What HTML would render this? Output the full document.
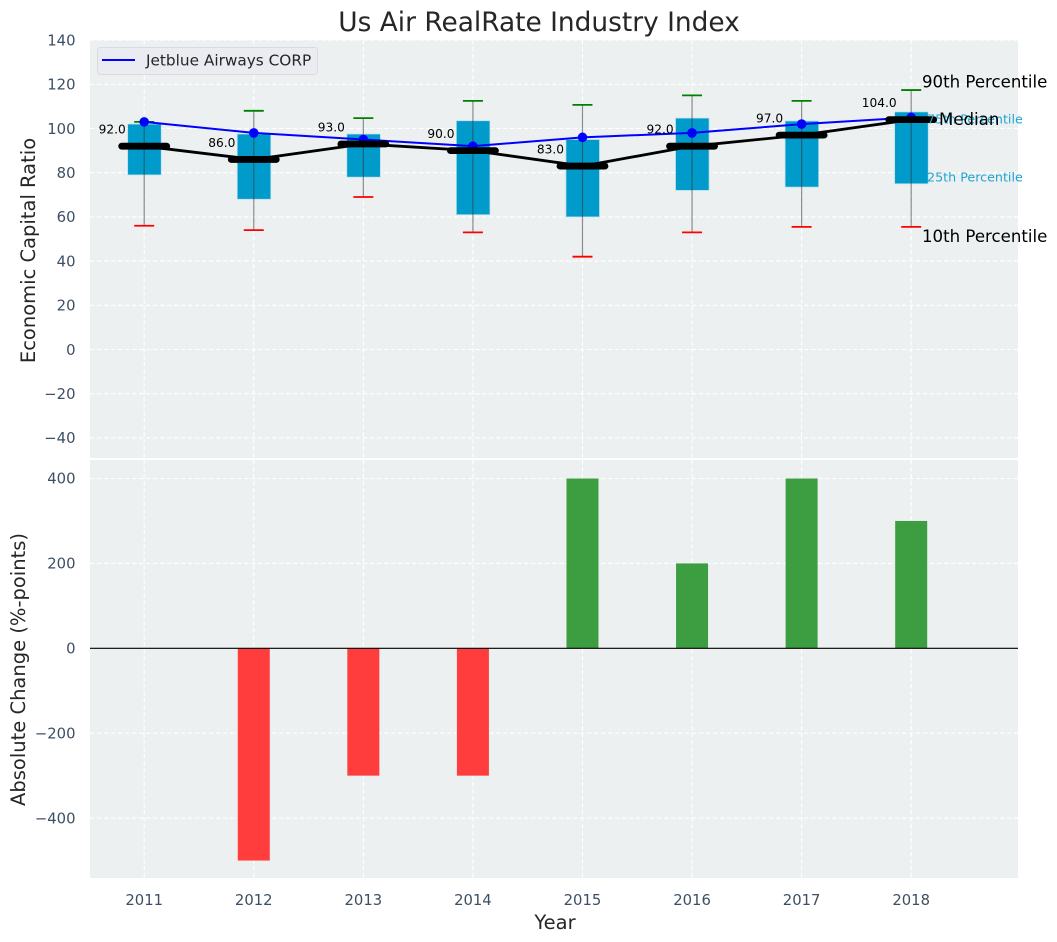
<!DOCTYPE html>
<html lang="en">
<head>
<meta charset="utf-8">
<title>Us Air RealRate Industry Index</title>
<style>
html,body{margin:0;padding:0;background:#fff;width:1057px;height:942px;overflow:hidden}
svg{display:block;font-family:"DejaVu Sans","Liberation Sans",sans-serif}
.tick{font-size:14.8px;fill:#3d4f63}
.axis-title{font-size:19.5px;fill:#262626}
</style>
</head>
<body>
<svg id="chart" xmlns="http://www.w3.org/2000/svg" width="1057" height="942" viewBox="0 0 1057 942">
  <rect x="90" y="40" width="928" height="418" fill="#ecf0f1"/>
  <rect x="90" y="460" width="928" height="418" fill="#ecf0f1"/>
  <g id="grid"></g>
  <g id="bars"></g>
  <g id="boxes"></g>
  <g id="lines"></g>
  <g id="ticks"></g>
  <text x="539" y="31" text-anchor="middle" font-size="26.4" fill="#262626">Us Air RealRate Industry Index</text>
  <text class="axis-title" transform="translate(35 250.5) rotate(-90)" text-anchor="middle">Economic Capital Ratio</text>
  <text class="axis-title" transform="translate(25 669.5) rotate(-90)" text-anchor="middle">Absolute Change (%-points)</text>
  <text class="axis-title" x="555" y="929" text-anchor="middle">Year</text>
  <g>
    <rect x="97.5" y="47.5" width="220" height="27" rx="3" fill="#eaecf1" stroke="#d9dbe0"/>
    <line x1="102" y1="60" x2="135" y2="60" stroke="#0000ff" stroke-width="2"/>
    <text x="146" y="65.5" font-size="15.3" fill="#262626">Jetblue Airways CORP</text>
  </g>
  <g>
    <text x="927" y="123.5" font-size="12.7" fill="#1fa5d0">75th Percentile</text>
    <text x="927" y="181.5" font-size="12.7" fill="#1fa5d0">25th Percentile</text>
    <text x="922" y="87.5" font-size="16.6" fill="#000">90th Percentile</text>
    <text x="939" y="125" font-size="16.6" fill="#000">Median</text>
    <text x="922" y="242" font-size="16.6" fill="#000">10th Percentile</text>
  </g>
</svg>
<script>
const years = [2011, 2012, 2013, 2014, 2015, 2016, 2017, 2018];
const p10 = [56, 54, 69, 53, 42, 53, 55.5, 55.5];
const p25 = [79, 68, 78, 61, 60, 72, 73.5, 75];
const median = [92, 86, 93, 90, 83, 92, 97, 104];
const p75 = [102, 97.5, 97.5, 103.5, 95, 104.7, 103.4, 107.5];
const p90 = [103, 108, 104.7, 112.5, 110.7, 115, 112.5, 117.4];
const jetblue = [103, 98, 95, 92, 96, 98, 102, 105];
const change = [0, -500, -300, -300, 400, 200, 400, 300];
const topTicks = [140, 120, 100, 80, 60, 40, 20, 0, -20, -40];
const bottomTicks = [400, 200, 0, -200, -400];

const NS = 'http://www.w3.org/2000/svg';
const xPos = v => 144.2 + (v - 2011) * 109.57;
const yTop = v => 349.5 - v * 2.21;
const yBottom = v => 648.3 - v * 0.4245;

function make(parent, tag, attrs) {
  const el = document.createElementNS(NS, tag);
  for (const k in attrs) el.setAttribute(k, attrs[k]);
  parent.appendChild(el);
  return el;
}
const gridG = document.getElementById('grid');
const barsG = document.getElementById('bars');
const boxesG = document.getElementById('boxes');
const linesG = document.getElementById('lines');
const ticksG = document.getElementById('ticks');
const gridStyle = {stroke: '#ffffff', 'stroke-width': 1.1, 'stroke-dasharray': '4.5 2.5'};

topTicks.forEach(t => {
  const line = make(gridG, 'line', Object.assign({x1: 90, x2: 1018, y1: yTop(t), y2: yTop(t)}, gridStyle));
  
  
  const label = make(ticksG, 'text', {class: 'tick', x: 75.5, y: yTop(t) + 5.3, 'text-anchor': 'end'});
  label.textContent = String(t).replace('-', '\u2212');
  
  
});
bottomTicks.forEach(t => {
  const line = make(gridG, 'line', Object.assign({x1: 90, x2: 1018, y1: yBottom(t), y2: yBottom(t)}, gridStyle));
  
  
  const label = make(ticksG, 'text', {class: 'tick', x: 75.5, y: yBottom(t) + 5.2, 'text-anchor': 'end'});
  label.textContent = String(t).replace('-', '\u2212');
  
  
});
years.forEach((yr, i) => {
  const x = xPos(yr);
  const v1 = make(gridG, 'line', Object.assign({x1: x, x2: x, y1: 40, y2: 458}, gridStyle));
  
  
  const v2 = make(gridG, 'line', Object.assign({x1: x, x2: x, y1: 460, y2: 878}, gridStyle));
  
  
  const label = make(ticksG, 'text', {class: 'tick', x: x, y: 905, 'text-anchor': 'middle'});
  label.textContent = yr;
  
  

  if (change[i] !== 0) {
    const y0 = yBottom(0), y1 = yBottom(change[i]);
    const bar = make(barsG, 'rect', {x: x - 16, y: Math.min(y0, y1), width: 32, height: Math.abs(y1 - y0), fill: change[i] < 0 ? '#ff3d3d' : '#3c9e40'});
    
    
  }

  const box = make(boxesG, 'rect', {x: x - 16.5, y: yTop(p75[i]), width: 33.5, height: yTop(p25[i]) - yTop(p75[i]), fill: '#009bcb', stroke: '#b5dfee', 'stroke-width': 0.7});
  
  
  const whisker = make(boxesG, 'line', {x1: x, x2: x, y1: yTop(p90[i]), y2: yTop(p10[i]), stroke: '#333', 'stroke-opacity': 0.55, 'stroke-width': 1.2});
  
  
  const capHi = make(boxesG, 'line', {x1: x - 10, x2: x + 10, y1: yTop(p90[i]), y2: yTop(p90[i]), stroke: '#008000', 'stroke-width': 1.8});
  
  
  const capLo = make(boxesG, 'line', {x1: x - 10, x2: x + 10, y1: yTop(p10[i]), y2: yTop(p10[i]), stroke: '#ff0000', 'stroke-width': 1.8});
  
  
});

const zeroLine = make(barsG, 'line', {x1: 90, x2: 1018, y1: yBottom(0), y2: yBottom(0), stroke: '#000', 'stroke-width': 1.1});



const jetLine = make(linesG, 'polyline', {points: years.map((y, i) => xPos(y) + ',' + yTop(jetblue[i])).join(' '), fill: 'none', stroke: '#0000ff', 'stroke-width': 2});


years.forEach((y, i) => {
  const dot = make(linesG, 'circle', {cx: xPos(y), cy: yTop(jetblue[i]), r: 4.8, fill: '#0000ff'});
  
  
});
const medLine = make(linesG, 'polyline', {points: years.map((y, i) => xPos(y) + ',' + yTop(median[i])).join(' '), fill: 'none', stroke: '#000', 'stroke-width': 2.8});


years.forEach((y, i) => {
  const x = xPos(y), yy = yTop(median[i]);
  const seg = make(linesG, 'line', {x1: x - 22.5, x2: x + 22.5, y1: yy, y2: yy, stroke: '#000', 'stroke-width': 6.8, 'stroke-linecap': 'round'});
  
  
  const label = make(linesG, 'text', {x: x - 32, y: yy - 12.6, 'text-anchor': 'middle', 'font-size': 12.2, fill: '#000'});
  label.textContent = median[i].toFixed(1);
  
  
});
</script>
</body>
</html>
